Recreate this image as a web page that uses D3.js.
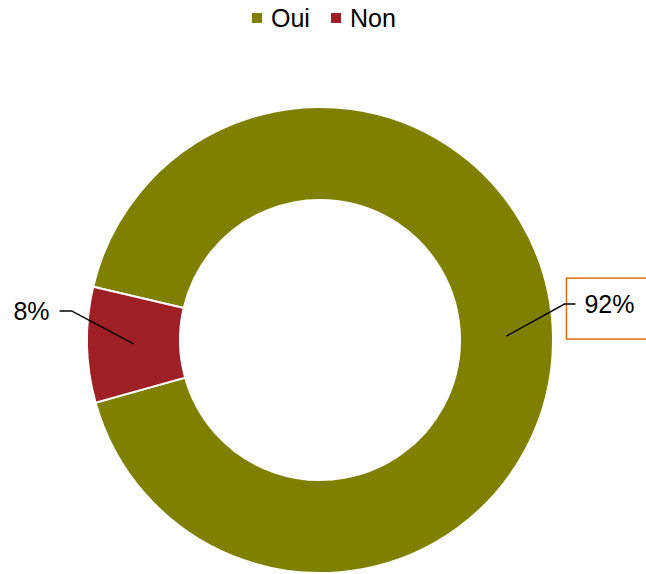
<!DOCTYPE html>
<html>
<head>
<meta charset="utf-8">
<script src="https://cdn.jsdelivr.net/npm/d3@7"></script>
<style>
  body { margin: 0; background: #fff; }
  svg { display: block; font-family: "Liberation Sans", Arial, sans-serif; }
</style>
</head>
<body>
<div id="chart-area"></div>
<script>
// data
var categories = ["Oui", "Non"];
var values = [92, 8];
var labels = ["92%", "8%"];
var colors = ["#808000", "#9E1F24"];

var width = 646, height = 574;
var cx = 320, cy = 340, outerR = 233, innerR = 140;

var svg = d3.select("#chart-area")
  .append("svg")
    .attr("width", width)
    .attr("height", height);

var color = d3.scaleOrdinal().domain(categories).range(colors);

var pie = d3.pie()
  .sort(null)
  .value(function(d) { return d.value; })
  .startAngle(283.2 * Math.PI / 180)
  .endAngle((283.2 + 360) * Math.PI / 180);

var data = categories.map(function(c, i) {
  return {cat: c, value: values[i], label: labels[i]};
});

var arc = d3.arc().innerRadius(innerR).outerRadius(outerR);

var g = svg.append("g")
  .attr("transform", "translate(" + cx + "," + cy + ")");

var arcs = pie(data);

g.selectAll("path.slice")
  .data(arcs)
  .enter()
  .append("path")
    .attr("class", "slice")
    .attr("d", arc)
    .attr("fill", function(d) { return color(d.data.cat); })
    .attr("stroke", "#fff")
    .attr("stroke-width", 2);

// data labels with leader lines
arcs.forEach(function(d) {
  var c = arc.centroid(d);
  var right = c[0] > 0;
  var elbow, end;
  if (right) {
    elbow = [c[0] + 58, c[1] - 32];
    end = [elbow[0] + 11, elbow[1]];
    // label box
    g.append("rect")
      .attr("x", elbow[0] + 2)
      .attr("y", elbow[1] - 26)
      .attr("width", 90)
      .attr("height", 61)
      .attr("fill", "#fff")
      .attr("stroke", "#E46C0A")
      .attr("stroke-width", 1.5);
    g.append("text")
      .attr("x", end[0] + 9)
      .attr("y", elbow[1] + 9)
      .attr("font-size", "25px")
      .attr("fill", "#000")
      .text(d.data.label);
  } else {
    elbow = [c[0] - 62, c[1] - 33];
    end = [elbow[0] - 12, elbow[1]];
    g.append("text")
      .attr("x", end[0] - 10)
      .attr("y", elbow[1] + 9)
      .attr("text-anchor", "end")
      .attr("font-size", "25px")
      .attr("fill", "#000")
      .text(d.data.label);
  }
  g.append("polyline")
    .attr("points", [c, elbow, end].map(function(p) { return p.join(","); }).join(" "))
    .attr("fill", "none")
    .attr("stroke", "#000")
    .attr("stroke-width", 1.5);
});

// legend
var legendX = [252, 331];
var legend = svg.append("g");
categories.forEach(function(c, i) {
  legend.append("rect")
    .attr("x", legendX[i])
    .attr("y", 13)
    .attr("width", 10)
    .attr("height", 10)
    .attr("fill", color(c));
  legend.append("text")
    .attr("x", legendX[i] + 19)
    .attr("y", 27)
    .attr("font-size", "25px")
    .attr("fill", "#000")
    .text(c);
});
</script>
</body>
</html>
